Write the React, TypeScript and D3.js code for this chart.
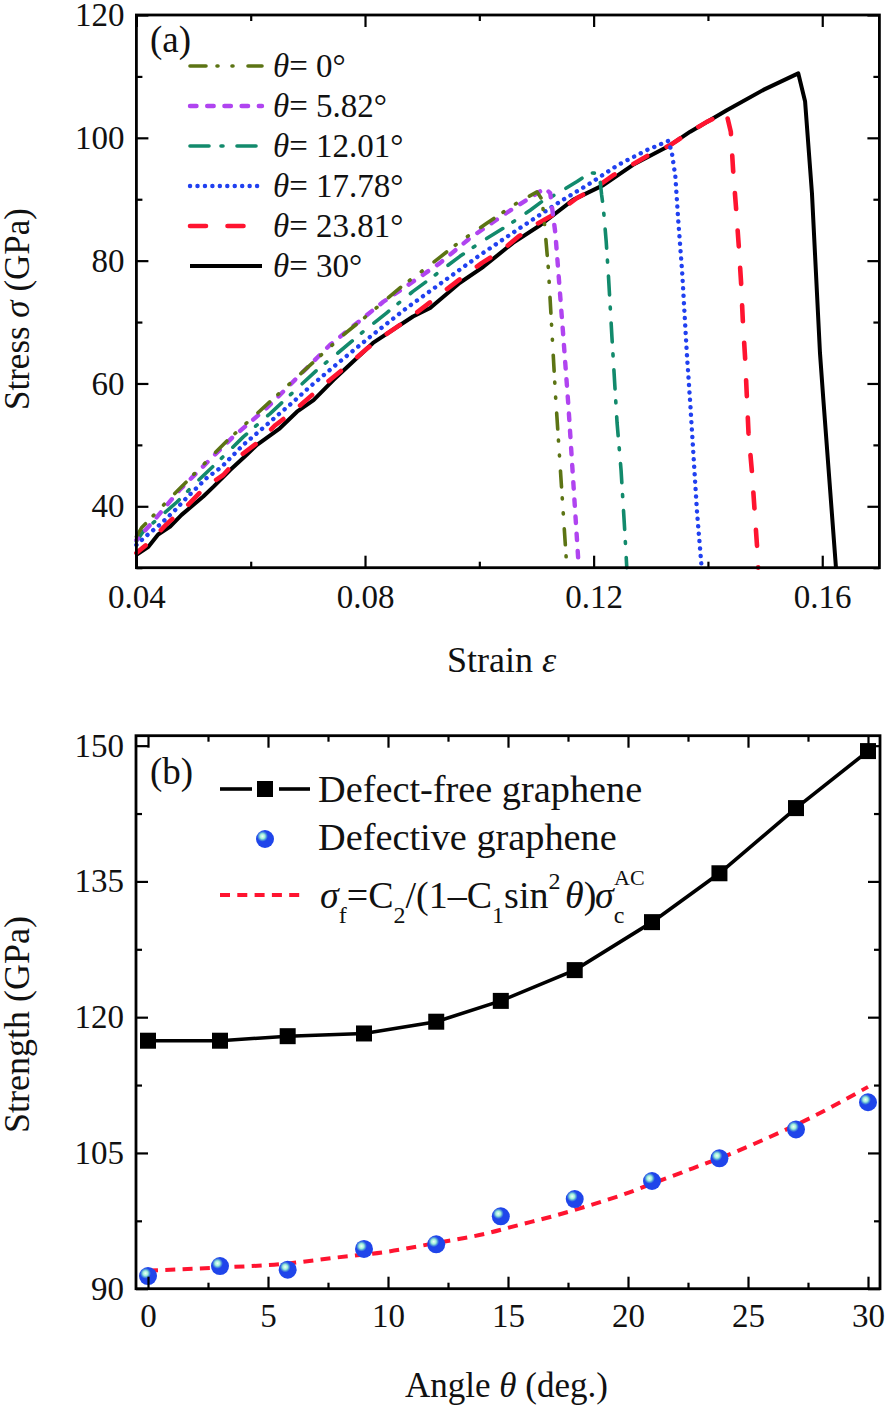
import React, { useEffect, useRef } from "react";
import * as d3 from "d3";

const SERIF = "'Liberation Serif', 'Times New Roman', serif";

// panel (a): stress-strain curves, one pair of arrays per angle
const strain0 = [0.04, 0.0409, 0.0462, 0.0511, 0.056, 0.0611, 0.071, 0.0762, 0.0812, 0.0864, 0.0914, 0.0966, 0.1013, 0.1066, 0.1101, 0.111, 0.1115, 0.1121, 0.1133, 0.1143, 0.1152, 0.1155];
const stress0 = [35.05, 36.5, 41.6, 46.2, 50.8, 55.1, 63.5, 67.9, 71.7, 75.8, 79.3, 83.1, 86.1, 89.4, 91.2, 89.9, 85, 78.5, 58.5, 44.3, 31.6, 30];

const strain5 = [0.04, 0.0429, 0.0476, 0.0534, 0.0569, 0.0628, 0.0739, 0.0832, 0.0867, 0.0931, 0.0984, 0.1048, 0.1115, 0.1124, 0.1133, 0.1138, 0.1147, 0.1156, 0.1174];
const stress5 = [34.5, 37.5, 42.7, 48.1, 51.3, 56, 66.3, 73.3, 75.5, 79.6, 83.7, 87.8, 91.8, 91, 84.5, 78.5, 67.6, 56.2, 30];

const strain12 = [0.04, 0.0412, 0.0471, 0.0506, 0.0552, 0.0587, 0.0634, 0.0716, 0.0753, 0.08, 0.0838, 0.0884, 0.0919, 0.0966, 0.1004, 0.1051, 0.1089, 0.1109, 0.1138, 0.1171, 0.1194, 0.121, 0.1214, 0.1217, 0.1222, 0.1226, 0.1232, 0.1241, 0.1248, 0.1254, 0.1258];
const stress12 = [34.3, 35.9, 40.7, 44, 48.1, 51.3, 55.1, 62.2, 65, 68.7, 71.5, 75, 77.4, 80.7, 83.1, 85.8, 88.2, 89.6, 91, 92.9, 94.3, 94.2, 90.7, 88.6, 83.1, 77.4, 67.6, 53.6, 45.9, 36.7, 30];

const strain17 = [0.04, 0.0415, 0.0441, 0.0468, 0.0488, 0.0523, 0.0549, 0.0587, 0.0611, 0.0648, 0.0672, 0.0704, 0.0759, 0.0809, 0.0873, 0.0937, 0.1001, 0.1066, 0.1141, 0.1194, 0.1243, 0.1293, 0.1331, 0.1337, 0.1343, 0.1348, 0.1355, 0.1363, 0.1369, 0.1381, 0.1389];
const stress17 = [33.7, 35, 37, 39.4, 41.4, 44.6, 46.4, 50, 51.9, 54.9, 56.8, 59.5, 63.8, 67.6, 72.3, 76.6, 80.9, 85, 89.6, 92.6, 95.6, 98, 99.5, 97.5, 93.7, 86.6, 78, 65, 56.8, 38.9, 30];

const strain23 = [0.04, 0.0421, 0.0455, 0.0485, 0.052, 0.0552, 0.0584, 0.0611, 0.0643, 0.0674, 0.0707, 0.0739, 0.0774, 0.0805, 0.084, 0.0873, 0.0908, 0.0937, 0.0972, 0.1004, 0.104, 0.1068, 0.1103, 0.1136, 0.1171, 0.1203, 0.1234, 0.1267, 0.1302, 0.1334, 0.1369, 0.1398, 0.1432, 0.144, 0.1444, 0.1449, 0.1454, 0.1458, 0.1461, 0.1465, 0.1471, 0.1477, 0.1486, 0.1488];
const stress23 = [32.4, 34, 37.3, 39.7, 43.1, 45.1, 48.4, 50.3, 53.2, 55.4, 58.1, 60.6, 63.3, 65.8, 68.2, 70.3, 72.8, 74.9, 77.4, 79.6, 81.7, 83.9, 86.1, 87.8, 90.2, 91.8, 93.9, 95.6, 97.5, 98.8, 101, 102.6, 104.1, 101, 94.8, 88.8, 82.3, 76.4, 70.3, 64.2, 51.9, 45.6, 33.4, 30];

const strain30 = [0.04, 0.0421, 0.0438, 0.0459, 0.0479, 0.0503, 0.0517, 0.0535, 0.0564, 0.0593, 0.0611, 0.0651, 0.0681, 0.071, 0.0745, 0.0814, 0.0884, 0.0914, 0.0966, 0.1007, 0.1059, 0.1107, 0.1164, 0.1217, 0.1269, 0.1334, 0.1369, 0.1433, 0.1497, 0.1558, 0.157, 0.1582, 0.1596, 0.1602, 0.1624];
const stress30 = [32.1, 33.4, 35.4, 36.7, 38.6, 40.5, 41.6, 43.2, 45.9, 48.4, 50, 52.7, 55.4, 57.3, 60.6, 66.6, 70.9, 72.3, 76.4, 79, 82.9, 85.8, 89.9, 92.3, 95.6, 98.8, 101, 104.5, 107.8, 110.5, 105.9, 91, 65, 57.3, 30];

const curveLabels = ["0", "5.82", "12.01", "17.78", "23.81", "30"];
const curveColors = ["#5c7414", "#b044f0", "#128a6c", "#2040f0", "#ff1430", "#000000"];
// round caps add one stroke width to each dash
const curveDashes = ["16 11 1 14 1 15", "6.5 10.7", "19 12 2 14", "0.1 7.35", "16 21.5", ""];
const curveWidths = [3.6, 4.4, 3.6, 4.4, 4.6, 4];
const curveOffsets = [0, 4, 6, 0, 4, 0];

const strainTicks = [0.04, 0.08, 0.12, 0.16];
const strainMinor = [0.06, 0.1, 0.14];
const stressTicks = [40, 60, 80, 100, 120];
const stressMinor = [30, 50, 70, 90, 110];

// panel (b): strength against chiral angle
const angles = [0, 3, 5.82, 9, 12.01, 14.7, 17.78, 21, 23.81, 27, 30];
const strengthFree = [117.4, 117.4, 117.9, 118.2, 119.5, 121.8, 125.2, 130.5, 135.9, 143.1, 149.4];
const strengthDefect = [91.4, 92.5, 92.1, 94.4, 94.9, 98, 99.9, 101.9, 104.4, 107.6, 110.6];
const fitAngles = [0, 1.9, 3.5, 5.5, 7.7, 10, 11.9, 14.1, 15.4, 17, 18.4, 19.8, 21.2, 22.7, 24.1, 25.6, 27.7, 30];
const fitStrength = [92, 92.2, 92.4, 92.7, 93.4, 94.1, 95, 96.1, 97, 98.1, 99.2, 100.4, 101.8, 103.3, 104.7, 106.4, 109, 112.3];

const angleTicks = [0, 5, 10, 15, 20, 25, 30];
const angleMinor = [2.5, 7.5, 12.5, 17.5, 22.5, 27.5];
const strengthTicks = [90, 105, 120, 135, 150];
const strengthMinor = [97.5, 112.5, 127.5, 142.5];

type Sel = d3.Selection<SVGGElement, unknown, null, undefined>;

// frame with inward ticks on all four sides
function drawFrame(
  g: Sel,
  x: d3.ScaleLinear<number, number>,
  y: d3.ScaleLinear<number, number>,
  xMajor: number[],
  xMinor: number[],
  yMajor: number[],
  yMinor: number[],
  xFmt: (d: number) => string,
  xPad: number
) {
  const [left, right] = x.range();
  const [bottom, top] = y.range();
  const sides: [any, any, string, number[], number[], any][] = [
    [d3.axisBottom, x, `translate(0,${bottom})`, xMajor, xMinor, xFmt],
    [d3.axisTop, x, `translate(0,${top})`, xMajor, xMinor, () => ""],
    [d3.axisLeft, y, `translate(${left},0)`, yMajor, yMinor, d3.format("d")],
    [d3.axisRight, y, `translate(${right},0)`, yMajor, yMinor, () => ""],
  ];
  sides.forEach(([axis, scale, tf, major, minor, fmt]) => {
    const a = g
      .append("g")
      .attr("transform", tf)
      .call(axis(scale).tickValues(major).tickSizeOuter(0).tickSizeInner(-12).tickPadding(axis === d3.axisBottom ? xPad : 12).tickFormat(fmt));
    a.selectAll("text").attr("font-family", SERIF).attr("font-size", 33).attr("fill", "#111");
    a.selectAll("line").attr("stroke", "#000").attr("stroke-width", 2.2);
    a.select(".domain").attr("stroke", "none");
    const b = g
      .append("g")
      .attr("transform", tf)
      .call(axis(scale).tickValues(minor).tickSizeOuter(0).tickSizeInner(-6).tickFormat(() => ""));
    b.selectAll("line").attr("stroke", "#000").attr("stroke-width", 2.2);
    b.select(".domain").attr("stroke", "none");
  });
  g.append("rect")
    .attr("x", left)
    .attr("y", top)
    .attr("width", right - left)
    .attr("height", bottom - top)
    .attr("fill", "none")
    .attr("stroke", "#000")
    .attr("stroke-width", 2.8);
}

// text made of [string, italic, dy, size, x] runs
function addRuns(
  g: Sel,
  px: number,
  py: number,
  runs: [string, boolean?, number?, number?, number?][],
  size: number,
  rotate = false
) {
  const t = g
    .append("text")
    .attr("font-family", SERIF)
    .attr("font-size", size)
    .attr("fill", "#111")
    .attr("transform", rotate ? `translate(${px},${py}) rotate(-90)` : `translate(${px},${py})`);
  runs.forEach(([s, it, dy, sz, x]) => {
    const sp = t
      .append("tspan")
      .attr("font-style", it ? "italic" : "normal")
      .attr("dy", dy ?? 0)
      .attr("font-size", sz ?? size)
      .text(s);
    if (x !== undefined) sp.attr("x", x);
  });
}

const App: React.FC = () => {
  const ref = useRef<SVGSVGElement>(null);

  useEffect(() => {
    const svg = d3.select(ref.current as SVGSVGElement);
    svg.selectChildren().remove();

    const defs = svg.append("defs");
    const grad = defs.append("radialGradient").attr("id", "ball").attr("cx", 0.36).attr("cy", 0.35).attr("r", 0.3);
    grad.append("stop").attr("offset", 0).attr("stop-color", "#f2fffb");
    grad.append("stop").attr("offset", 0.45).attr("stop-color", "#9ff0d8");
    grad.append("stop").attr("offset", 0.75).attr("stop-color", "#4a90dc");
    grad.append("stop").attr("offset", 1).attr("stop-color", "#1f45ea");

    // ---- panel (a)
    const xA = d3.scaleLinear().domain([0.04, 0.17]).range([136.4, 879.4]);
    const yA = d3.scaleLinear().domain([30, 120]).range([567.7, 15]);
    const a = svg.append("g") as unknown as Sel;

    const strains = [strain0, strain5, strain12, strain17, strain23, strain30];
    const stresses = [stress0, stress5, stress12, stress17, stress23, stress30];
    const lineA = d3
      .line<[number, number]>()
      .x((d) => xA(d[0]))
      .y((d) => yA(d[1]));

    // black goes down first, the dashed ones sit on top of it
    d3.range(5, -1, -1).forEach((i) => {
      a.append("path")
        .datum(d3.zip(strains[i], stresses[i]) as [number, number][])
        .attr("fill", "none")
        .attr("stroke", curveColors[i])
        .attr("stroke-width", curveWidths[i])
        .attr("stroke-dasharray", curveDashes[i])
        .attr("stroke-dashoffset", curveOffsets[i])
        .attr("stroke-linecap", i === 5 ? "butt" : "round")
        .attr("stroke-linejoin", "round")
        .attr("d", lineA);
    });

    drawFrame(a, xA, yA, strainTicks, strainMinor, stressTicks, stressMinor, d3.format(".2f"), 17);

    addRuns(a, 150, 52, [["(a)"]], 37);
    addRuns(a, 447, 672, [["Strain  "], ["ε", true]], 36);
    addRuns(a, 29, 410, [["Stress "], ["σ", true], [" (GPa)"]], 35, true);

    const legendY = d3.scalePoint<string>().domain(curveLabels).range([66, 266]);
    curveLabels.forEach((lab, i) => {
      const ly = legendY(lab) as number;
      a.append("line")
        .attr("x1", 190)
        .attr("x2", 262)
        .attr("y1", ly)
        .attr("y2", ly)
        .attr("stroke", curveColors[i])
        .attr("stroke-width", curveWidths[i])
        .attr("stroke-dasharray", curveDashes[i])
        .attr("stroke-linecap", i === 5 ? "butt" : "round");
      addRuns(a, 273, ly + 11, [["θ", true], [`= ${lab}°`]], 33);
    });

    // ---- panel (b)
    const xB = d3.scaleLinear().domain([-0.5, 30.5]).range([136, 880]);
    const yB = d3.scaleLinear().domain([90, 151.1]).range([1288.7, 735.7]);
    const b = svg.append("g") as unknown as Sel;

    const lineFree = d3
      .line<number>()
      .x((_, i) => xB(angles[i]))
      .y((d) => yB(d));
    b.append("path")
      .datum(strengthFree)
      .attr("fill", "none")
      .attr("stroke", "#000")
      .attr("stroke-width", 3.6)
      .attr("d", lineFree);

    b.selectAll("rect.sq")
      .data(strengthFree)
      .join("rect")
      .attr("class", "sq")
      .attr("x", (_, i) => xB(angles[i]) - 8)
      .attr("y", (d) => yB(d) - 8)
      .attr("width", 16)
      .attr("height", 16)
      .attr("fill", "#000");

    const lineFit = d3
      .line<number>()
      .x((_, i) => xB(fitAngles[i]))
      .y((d) => yB(d))
      .curve(d3.curveMonotoneX);
    b.append("path")
      .datum(fitStrength)
      .attr("fill", "none")
      .attr("stroke", "#ff1430")
      .attr("stroke-width", 4)
      .attr("stroke-dasharray", "10 7.3")
      .attr("d", lineFit);

    // balls hide the fit line
    b.selectAll("circle.ball")
      .data(strengthDefect)
      .join("circle")
      .attr("class", "ball")
      .attr("cx", (_, i) => xB(angles[i]))
      .attr("cy", (d) => yB(d))
      .attr("r", 9)
      .attr("fill", "url(#ball)");

    drawFrame(b, xB, yB, angleTicks, angleMinor, strengthTicks, strengthMinor, d3.format("d"), 15);

    addRuns(b, 150, 784, [["(b)"]], 37);
    addRuns(b, 405, 1397, [["Angle "], ["θ", true], [" (deg.)"]], 35);
    addRuns(b, 29, 1133, [["Strength (GPa)"]], 36, true);

    // legend of panel (b)
    [[220, 252], [279, 310]].forEach(([x1, x2]) => {
      b.append("line").attr("x1", x1).attr("x2", x2).attr("y1", 789).attr("y2", 789).attr("stroke", "#000").attr("stroke-width", 3.6);
    });
    b.append("rect").attr("x", 257).attr("y", 781).attr("width", 16).attr("height", 16).attr("fill", "#000");
    b.append("circle").attr("cx", 265).attr("cy", 839).attr("r", 9).attr("fill", "url(#ball)");
    b.append("line")
      .attr("x1", 220)
      .attr("x2", 300)
      .attr("y1", 895)
      .attr("y2", 895)
      .attr("stroke", "#ff1430")
      .attr("stroke-width", 4)
      .attr("stroke-dasharray", "10 7.3");

    addRuns(b, 318, 802, [["Defect-free graphene"]], 38.3);
    addRuns(b, 318, 850, [["Defective graphene"]], 38.3);
    addRuns(
      b,
      320,
      908,
      [
        ["σ", true],
        ["f", false, 15, 24],
        ["=C", false, -15],
        ["2", false, 15, 24],
        ["/(1–C", false, -15],
        ["1", false, 15, 24],
        ["sin", false, -15],
        ["2", false, -19, 24],
        ["θ", true, 19, undefined, 245],
        [")"],
        ["σ", true, 0, undefined, 275],
        ["c", false, 15, 24],
        ["AC", false, -38, 22, 294],
      ],
      38
    );
  }, []);

  return (
    <svg
      ref={ref}
      width={886}
      height={1405}
      style={{ position: "absolute", left: 0, top: 0, background: "#fff" }}
    />
  );
};

export default App;
